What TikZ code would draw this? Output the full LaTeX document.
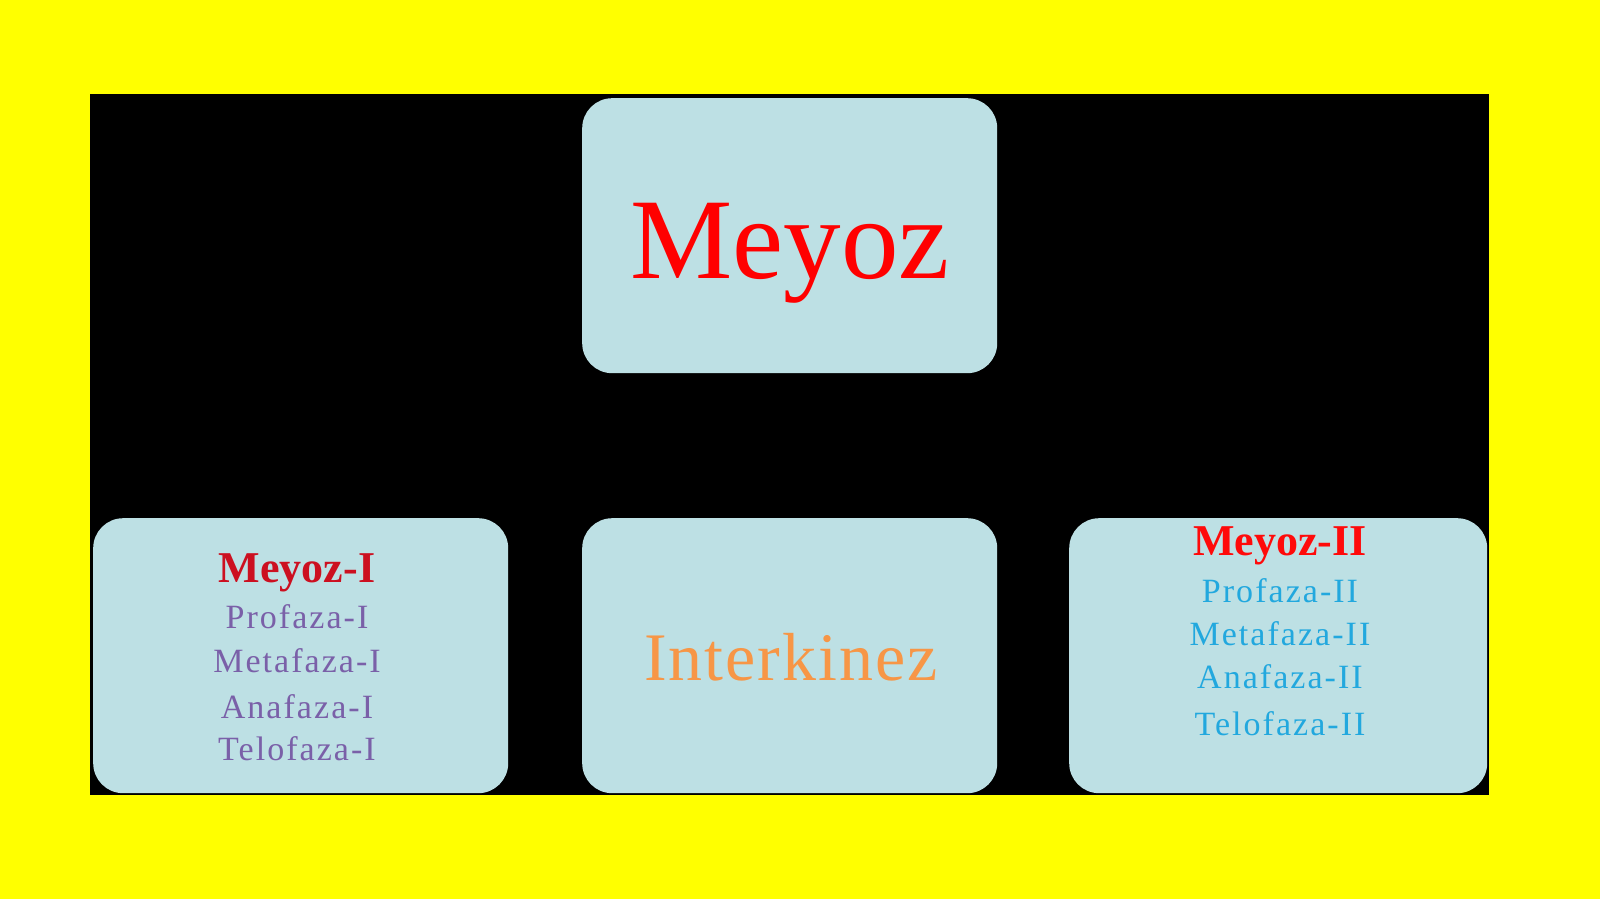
\documentclass[tikz,border=0pt]{standalone}
\usepackage{fontspec}
\setmainfont{Liberation Serif}
\newfontfamily\spreadfont[LetterSpace=6]{Liberation Serif}
\newfontfamily\interfont[LetterSpace=3]{Liberation Serif}
\definecolor{bgyellow}{HTML}{FFFF00}
\definecolor{boxfill}{HTML}{BDE0E4}
\definecolor{redA}{HTML}{CC1020}
\definecolor{redB}{HTML}{FF0A0A}
\definecolor{purp}{HTML}{7A60A8}
\definecolor{cyanT}{HTML}{22A8DE}
\definecolor{orangeT}{HTML}{F79646}
\tikzset{
  panel/.style={fill=boxfill, draw=none, rounded corners=30pt, anchor=north west, inner sep=0pt},
  lbl/.style={anchor=base, inner sep=0pt, outer sep=0pt},
  phase/.style={lbl, font=\spreadfont\fontsize{34}{34}\selectfont},
}
\begin{document}
\begin{tikzpicture}[x=1pt,y=-1pt]
\useasboundingbox (0,0) rectangle (1600,899);
\fill[bgyellow] (0,0) rectangle (1600,899);
\fill[black] (90,94) rectangle (1489,795);
\node[panel, minimum width=415pt, minimum height=275pt] (top) at (582,98) {};
\node[panel, minimum width=415pt, minimum height=275pt] (left) at (93,518) {};
\node[panel, minimum width=415pt, minimum height=275pt] (mid) at (582,518) {};
\node[panel, minimum width=418pt, minimum height=275pt] (right) at (1069,518) {};
\node[lbl, text=red] (tmeyoz) at (790,278) {\fontsize{115}{115}\selectfont Meyoz};
\node[lbl, text=orangeT] (tinter) at (791,680) {\interfont\fontsize{68}{68}\selectfont Interkinez};
\node[lbl, text=redA] (tm1) at (297,582) {\fontsize{44}{44}\selectfont\bfseries Meyoz-I};
\node[phase, text=purp] (p1) at (297,628) {Profaza-I};
\node[phase, text=purp] (m1) at (297,672) {Metafaza-I};
\node[phase, text=purp] (a1) at (297,718) {Anafaza-I};
\node[phase, text=purp] (t1) at (297,760) {Telofaza-I};
\node[lbl, text=redB] (tm2) at (1280,555) {\fontsize{44}{44}\selectfont\bfseries Meyoz-II};
\node[phase, text=cyanT] (p2) at (1280,602) {Profaza-II};
\node[phase, text=cyanT] (m2) at (1280,645) {Metafaza-II};
\node[phase, text=cyanT] (a2) at (1280,688) {Anafaza-II};
\node[phase, text=cyanT] (t2) at (1280,735) {Telofaza-II};
\end{tikzpicture}
\end{document}
